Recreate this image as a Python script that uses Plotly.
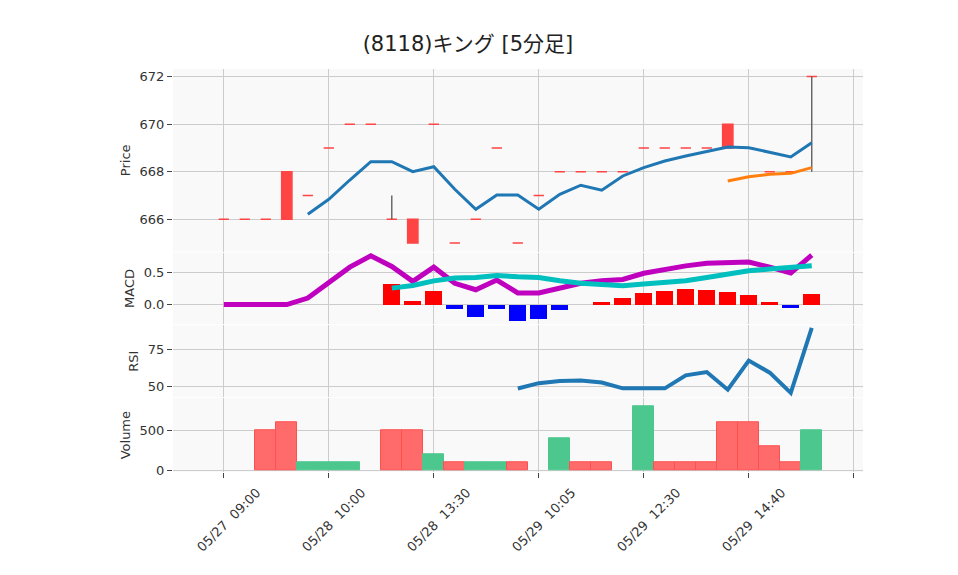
import plotly.graph_objects as go
from plotly.subplots import make_subplots

# ---------------- data ----------------
x_idx = list(range(29))
tick_pos = [0, 5, 10, 15, 20, 25, 30]
tick_text = ["05/27  09:00", "05/28  10:00", "05/28  13:30", "05/29  10:05",
             "05/29  12:30", "05/29  14:40", ""]

opens = [666, 666, 666, 666, 667, 669, 670, 670, 666, 666, 670, 665, 666, 669, 665,
         667, 668, 668, 668, 668, 669, 669, 669, 669, 669, 669, 668, 668, 672]
highs = [666, 666, 666, 668, 667, 669, 670, 670, 667, 666, 670, 665, 666, 669, 665,
         667, 668, 668, 668, 668, 669, 669, 669, 669, 670, 669, 668, 668, 672]
lows = [666, 666, 666, 666, 667, 669, 670, 670, 666, 665, 670, 665, 666, 669, 665,
        667, 668, 668, 668, 668, 669, 669, 669, 669, 669, 669, 668, 668, 668]
closes = [666, 666, 666, 668, 667, 669, 670, 670, 666, 665, 670, 665, 666, 669, 665,
          667, 668, 668, 668, 668, 669, 669, 669, 669, 670, 669, 668, 668, 672]

ma_short = [None, None, None, None, 666.21, 666.84, 667.65, 668.42, 668.42, 668.0,
            668.21, 667.26, 666.42, 667.02, 667.02, 666.42, 667.05, 667.43, 667.22,
            667.82, 668.17, 668.45, 668.66, 668.84, 669.04, 669.01, 668.8, 668.62, 669.22]
ma_long = [None] * 24 + [667.61, 667.79, 667.89, 667.93, 668.17]

macd = [0.0, 0.0, 0.0, 0.0, 0.10, 0.33, 0.58, 0.755, 0.59, 0.36, 0.58, 0.33, 0.23,
        0.38, 0.18, 0.18, 0.265, 0.33, 0.37, 0.39, 0.485, 0.55, 0.60, 0.64, 0.65,
        0.66, 0.58, 0.49, 0.765]
signal = [None] * 8 + [0.255, 0.296, 0.367, 0.41, 0.42, 0.45, 0.43, 0.42, 0.37, 0.33,
                       0.31, 0.29, 0.32, 0.34, 0.37, 0.42, 0.47, 0.525, 0.55, 0.57, 0.60]
hist = [None] * 8 + [0.32, 0.06, 0.21, -0.06, -0.18, -0.06, -0.255, -0.214, -0.077,
                     0.0, 0.046, 0.107, 0.18, 0.214, 0.245, 0.23, 0.20, 0.153, 0.046,
                     -0.04, 0.168]

rsi = [None] * 14 + [48.45, 52.0, 53.5, 53.8, 52.4, 48.5, 48.5, 48.5, 57.3, 59.5,
                     47.6, 67.3, 59.1, 45.4, 89.4]

volume = [0, 0, 500, 600, 100, 100, 100, 0, 500, 500, 200, 100, 100, 100, 100,
          0, 400, 100, 100, 0, 800, 100, 100, 100, 600, 600, 300, 100, 500]
vol_side = [0, 0, 1, 1, -1, -1, -1, 0, 1, 1, -1, 1, -1, -1, 1,
            0, -1, 1, 1, 0, -1, 1, 1, 1, 1, 1, 1, 1, -1]

# ---------------- figure ----------------
FONT = "DejaVu Sans, Noto Sans CJK JP"
RED = "#FF4444"
fig = make_subplots(rows=4, cols=1, shared_xaxes=True, vertical_spacing=0.0025)

# grey wicks (drawn first, under the bodies)
wx, wy = [], []
for i in x_idx:
    top = max(opens[i], closes[i])
    bot = min(opens[i], closes[i])
    if highs[i] > top:
        wx += [i, i, None]
        wy += [top, highs[i], None]
    if lows[i] < bot:
        wx += [i, i, None]
        wy += [lows[i], bot, None]
fig.add_trace(go.Scatter(x=wx, y=wy, mode="lines", line=dict(color="#555555", width=1.3),
                         showlegend=False, hoverinfo="skip"), row=1, col=1)

# candle bodies (wicks are the grey segments above)
body_hi = [max(o, c) for o, c in zip(opens, closes)]
body_lo = [min(o, c) for o, c in zip(opens, closes)]
fig.add_trace(go.Candlestick(
    x=x_idx, open=opens, high=body_hi, low=body_lo, close=closes,
    increasing=dict(line=dict(color=RED, width=1.5), fillcolor=RED),
    decreasing=dict(line=dict(color=RED, width=1.5), fillcolor=RED),
    showlegend=False, hoverinfo="skip"), row=1, col=1)

fig.add_trace(go.Scatter(x=x_idx, y=ma_short, mode="lines",
                         line=dict(color="#1f77b4", width=3), showlegend=False), row=1, col=1)
fig.add_trace(go.Scatter(x=x_idx, y=ma_long, mode="lines",
                         line=dict(color="#ff7f0e", width=3), showlegend=False), row=1, col=1)

# MACD
hist_colors = ["#FF0000" if (h is not None and h >= 0) else "#0000FF" for h in hist]
fig.add_trace(go.Bar(x=x_idx, y=hist, width=0.8, marker=dict(color=hist_colors, line=dict(width=0)),
                     showlegend=False), row=2, col=1)
fig.add_trace(go.Scatter(x=x_idx, y=macd, mode="lines",
                         line=dict(color="#BF00BF", width=5), showlegend=False), row=2, col=1)
fig.add_trace(go.Scatter(x=x_idx, y=signal, mode="lines",
                         line=dict(color="#00BFBF", width=5), showlegend=False), row=2, col=1)

# RSI
fig.add_trace(go.Scatter(x=x_idx, y=rsi, mode="lines",
                         line=dict(color="#1f77b4", width=4), showlegend=False), row=3, col=1)

# Volume
vol_fill = ["#FF6B6B" if s > 0 else "#4CC78E" for s in vol_side]
vol_line = ["#FF4F4F" if s > 0 else "#4CC78E" for s in vol_side]
vol_plot = [v if v > 0 else None for v in volume]
fig.add_trace(go.Bar(x=x_idx, y=vol_plot, width=1.0,
                     marker=dict(color=vol_fill, line=dict(color=vol_line, width=1)),
                     showlegend=False), row=4, col=1)

grid = "#CCCCCC"
tfont = dict(family=FONT, size=13, color="#333")
axis_common = dict(showgrid=True, gridcolor=grid, gridwidth=1, zeroline=False,
                   showline=False, ticks="outside", ticklen=5, tickcolor="#444",
                   tickfont=tfont)

for r in range(1, 5):
    fig.update_xaxes(range=[-2.42, 30.44], tickmode="array", tickvals=tick_pos,
                     ticktext=tick_text if r == 4 else [""] * len(tick_pos),
                     showticklabels=(r == 4), tickangle=-45,
                     ticks="outside" if r == 4 else "",
                     ticklen=5, tickcolor="#444",
                     showgrid=True, gridcolor=grid, zeroline=False,
                     tickfont=tfont, row=r, col=1)
fig.update_xaxes(ticklabelshift=33, ticklabelstandoff=2, row=4, col=1)

ttl = dict(font=tfont, standoff=6)
fig.update_yaxes(axis_common, row=1, col=1)
fig.update_yaxes(range=[664.64, 672.32], tickvals=[666, 668, 670, 672],
                 title=dict(text="Price", **ttl),
                 domain=[0.547, 1.0], row=1, col=1)
fig.update_yaxes(axis_common, row=2, col=1)
fig.update_yaxes(range=[-0.306, 0.806], tickvals=[0.0, 0.5], ticktext=["0.0", "0.5"],
                 title=dict(text="MACD", **ttl),
                 domain=[0.3665, 0.5445], row=2, col=1)
fig.update_yaxes(axis_common, row=3, col=1)
fig.update_yaxes(range=[42.5, 91.1], tickvals=[50, 75],
                 title=dict(text="RSI", **ttl),
                 domain=[0.1855, 0.364], row=3, col=1)
fig.update_yaxes(axis_common, row=4, col=1)
fig.update_yaxes(range=[-16, 893], tickvals=[0, 500],
                 title=dict(text="Volume", **ttl),
                 domain=[0.0, 0.183], row=4, col=1)

# page body adds an 8px offset; size the figure so the plot lands where the reference has it
fig.update_layout(
    width=950, height=567,
    margin=dict(l=165, r=95, t=61, b=103),
    paper_bgcolor="white", plot_bgcolor="#F9F9F9",
    title=dict(text="(8118)キング [5分足]", x=0.4842, xanchor="center",
               y=0.9365, yanchor="middle",
               font=dict(family=FONT, size=21, color="#222")),
    bargap=0, showlegend=False,
    xaxis_rangeslider_visible=False,
    font=dict(family=FONT),
)

fig.write_html("out.html")
